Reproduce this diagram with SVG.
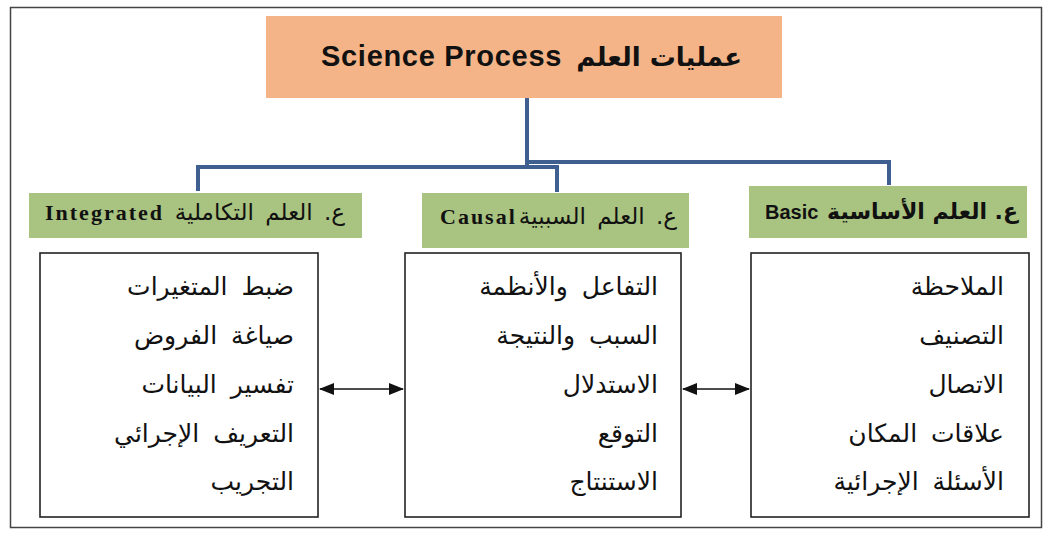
<svg xmlns="http://www.w3.org/2000/svg" width="1053" height="537" viewBox="0 0 1053 537">
<defs>
<marker id="ah" viewBox="0 0 15 12" refX="14" refY="6" markerWidth="15" markerHeight="12" markerUnits="userSpaceOnUse" orient="auto-start-reverse">
<path d="M0,0 L15,6 L0,12 Z" fill="#111"/>
</marker>
<style>
.frame{fill:#fff;stroke:#444;stroke-width:1.5}
.title{fill:#F4B487}
.hdr{fill:#A9C380}
.list{fill:#fff;stroke:#222;stroke-width:1.6}
.conn{fill:none;stroke:#3E5F8F;stroke-width:4}
.arr{fill:none;stroke:#111;stroke-width:1.6}
.en{font-family:"Liberation Sans",sans-serif;font-weight:bold;fill:#111}
.enser{font-family:"Liberation Serif",serif;font-weight:bold;font-size:22px;letter-spacing:2px;fill:#111}
.ar{font-family:"DejaVu Sans",sans-serif;fill:#111;text-anchor:end}
.li{font-family:"DejaVu Sans",sans-serif;font-size:25px;word-spacing:6px;fill:#111;text-anchor:end}
</style>
</defs>
<rect class="frame" x="10.5" y="7.5" width="1031" height="520"/>
<g id="title">
<rect class="title" x="266" y="16" width="516" height="82"/>
<text class="en" x="321" y="66" style="font-size:29px;letter-spacing:0.7px">Science Process</text>
<text class="ar" x="742" y="66" style="font-size:26px;font-weight:bold">عمليات العلم</text>
</g>
<g id="connectors">
<path class="conn" d="M527,98 V167"/>
<path class="conn" d="M527,162 H889 V185"/>
<path class="conn" d="M198,191 V167 H557 V192"/>
<line class="arr" x1="320" y1="389" x2="403" y2="389" marker-start="url(#ah)" marker-end="url(#ah)"/>
<line class="arr" x1="683" y1="389" x2="749" y2="389" marker-start="url(#ah)" marker-end="url(#ah)"/>
</g>
<g id="integrated">
<rect class="hdr" x="29" y="193" width="333" height="45"/>
<text class="enser" x="45" y="220">Integrated</text>
<text class="ar" x="345" y="220" style="font-size:23px;word-spacing:4px">ع. العلم التكاملية</text>
</g>
<g id="causal">
<rect class="hdr" x="422" y="193" width="267" height="55"/>
<text class="enser" x="440" y="224">Causal</text>
<text class="ar" x="677" y="224" style="font-size:23px;word-spacing:4px">ع. العلم السببية</text>
</g>
<g id="basic">
<rect class="hdr" x="749" y="186" width="278" height="52"/>
<text class="en" x="765" y="219" style="font-size:20px">Basic</text>
<text class="ar" x="1018" y="219" style="font-size:22px;font-weight:bold">ع. العلم الأساسية</text>
</g>
<g id="list-integrated">
<rect class="list" x="40" y="253" width="278" height="264"/>
<text class="li" x="294" y="295">ضبط المتغيرات</text>
<text class="li" x="294" y="344">صياغة الفروض</text>
<text class="li" x="294" y="393">تفسير البيانات</text>
<text class="li" x="294" y="442">التعريف الإجرائي</text>
<text class="li" x="294" y="490">التجريب</text>
</g>
<g id="list-causal">
<rect class="list" x="405" y="253" width="276" height="264"/>
<text class="li" x="658" y="295">التفاعل والأنظمة</text>
<text class="li" x="658" y="344">السبب والنتيجة</text>
<text class="li" x="658" y="393">الاستدلال</text>
<text class="li" x="658" y="442">التوقع</text>
<text class="li" x="658" y="490">الاستنتاج</text>
</g>
<g id="list-basic">
<rect class="list" x="751" y="253" width="278" height="264"/>
<text class="li" x="1004" y="295">الملاحظة</text>
<text class="li" x="1004" y="344">التصنيف</text>
<text class="li" x="1004" y="393">الاتصال</text>
<text class="li" x="1004" y="442">علاقات المكان</text>
<text class="li" x="1004" y="490">الأسئلة الإجرائية</text>
</g>
</svg>
